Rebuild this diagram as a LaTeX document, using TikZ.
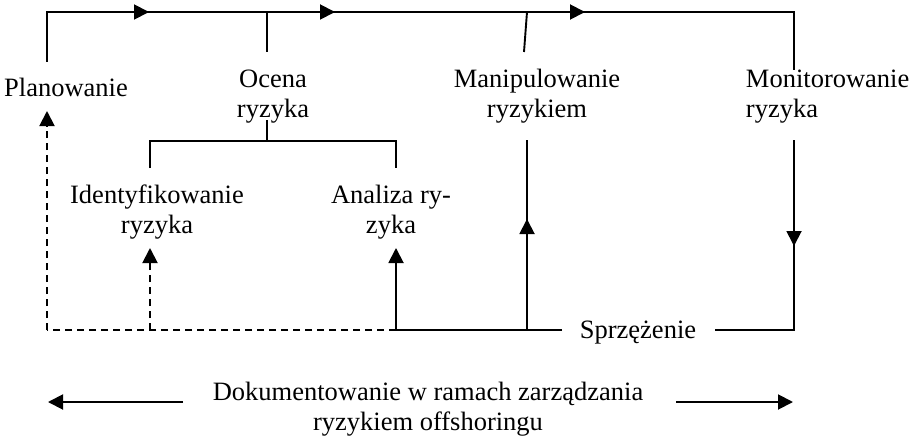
\documentclass[tikz,border=0pt]{standalone}
\usepackage{fontspec}
\setmainfont{Liberation Serif}
\usetikzlibrary{arrows.meta}
\begin{document}
\begin{tikzpicture}[x=1pt,y=-1pt,
  line width=1.9pt,
  label/.style={inner sep=0pt,anchor=base,align=center,
    font=\fontsize{26.5}{30}\selectfont},
  tip/.style={-{Triangle[length=15pt,width=15pt]}},
  dash line/.style={dash pattern=on 7pt off 5pt}]
\useasboundingbox (0,0) rectangle (912,436);

% stage labels (placed by the baseline of their last line)
\node[label] (plan)  at (66,96)  {Planowanie};
\node[label] (ocena) at (273,117) {Ocena\\ryzyka};
\node[label] (manip) at (537,117) {Manipulowanie\\ryzykiem};
\node[label,anchor=base west,align=left] (monit) at (745,117) {Monitorowanie\\ryzyka};
\node[label] (ident) at (157,233) {Identyfikowanie\\ryzyka};
\node[label] (anal)  at (391,233) {Analiza ry-\\zyka};
\node[label] (sprz)  at (638,338) {Sprzężenie};
\node[label] (dok)   at (428,430) {Dokumentowanie w ramach zarządzania\\ryzykiem offshoringu};

% junction points
\coordinate (plT) at (47,62);
\coordinate (tl)  at (47,12);
\coordinate (tr)  at (794,12);
\coordinate (moT) at (794,70);
\coordinate (ocU) at (267,52);
\coordinate (ocA) at (267,12);
\coordinate (maU) at (524,52);
\coordinate (maA) at (527,12);
\coordinate (ocD) at (267,120);
\coordinate (brM) at (267,141);
\coordinate (brL) at (150,141);
\coordinate (brR) at (396,141);
\coordinate (idT) at (150,168);
\coordinate (anT) at (396,168);
\coordinate (moB) at (794,140);
\coordinate (br)  at (794,330);
\coordinate (spR) at (715,330);
\coordinate (spL) at (562,330);
\coordinate (maB) at (527,330);
\coordinate (maL) at (527,140);
\coordinate (anB) at (396,330);
\coordinate (idB) at (150,330);
\coordinate (bl)  at (47,330);
\coordinate (dl1) at (183,402);
\coordinate (dl2) at (48,402);
\coordinate (dr1) at (676,402);
\coordinate (dr2) at (793,402);

% main loop along the top
\draw (plT) -- (tl) -- (tr) -- (moT);
\draw[tip] (128,12) -- (149,12);
\draw[tip] (313,12) -- (335,12);
\draw[tip] (563,12) -- (585,12);
\draw (ocU) -- (ocA);
\draw (maU) -- (maA);

% risk assessment branches
\draw (ocD) -- (brM);
\draw (idT) -- (brL) -- (brR) -- (anT);

% feedback loop
\draw (moB) -- (br) -- (spR);
\draw[tip] (794,225) -- (794,246);
\draw (spL) -- (anB);
\draw (maB) -- (maL);
\draw[tip] (527,240) -- (527,219);
\draw[tip] (anB) -- (396,248);
\draw[dash line] (anB) -- (bl);
\draw[dash line,tip] (bl) -- (47,111);
\draw[dash line,tip] (idB) -- (150,248);

% documentation arrows
\draw[tip] (dl1) -- (dl2);
\draw[tip] (dr1) -- (dr2);
\end{tikzpicture}
\end{document}
